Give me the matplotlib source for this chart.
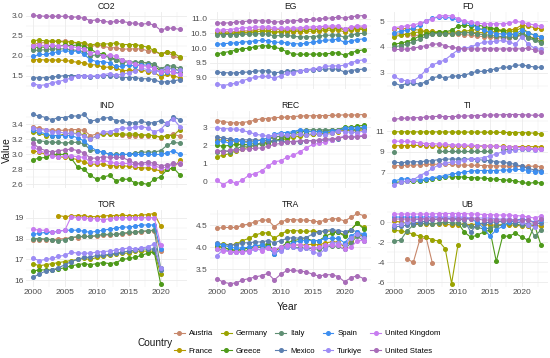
import numpy as np
import matplotlib
matplotlib.use('Agg')
import matplotlib.pyplot as plt
from matplotlib.lines import Line2D
from matplotlib.ticker import MultipleLocator, AutoMinorLocator, FormatStrFormatter

plt.rcParams['font.family'] = ['Liberation Sans', 'DejaVu Sans']
plt.rcParams['axes.unicode_minus'] = False

nan = np.nan
years = list(range(2000, 2024))

countries = ['Austria', 'France', 'Germany', 'Greece', 'Italy',
             'Mexico', 'Spain', 'Turkiye', 'United Kingdom', 'United States']
colors = ['#C7876B', '#B59A00', '#9AA300', '#4E9A1A', '#5F8F73',
          '#5C7FB0', '#3D8EF0', '#9D8CF5', '#C77CF0', '#A86CB8']

# CO2
co2 = {
    'Austria': [2.28, 2.32, 2.33, 2.37, 2.36, 2.37, 2.35, 2.3, 2.3, 2.22, 2.27, 2.24, 2.2, 2.2, 2.16, 2.17, 2.17, 2.17, 2.12, 2.12, 2.03, 2.08, 2.0, 1.93],
    'France': [1.9, 1.9, 1.89, 1.89, 1.89, 1.88, 1.86, 1.83, 1.82, 1.77, 1.77, 1.71, 1.71, 1.7, 1.62, 1.63, 1.63, 1.64, 1.6, 1.58, 1.47, 1.53, 1.5, 1.44],
    'Germany': [2.38, 2.39, 2.37, 2.37, 2.36, 2.34, 2.35, 2.32, 2.33, 2.26, 2.3, 2.29, 2.3, 2.32, 2.28, 2.28, 2.28, 2.25, 2.21, 2.13, 2.04, 2.1, 2.07, 1.97],
    'Greece': [2.2, 2.22, 2.21, 2.25, 2.24, 2.27, 2.25, 2.27, 2.23, 2.17, 2.07, 2.04, 1.98, 1.9, 1.88, 1.85, 1.8, 1.85, 1.8, 1.74, 1.62, 1.66, 1.7, 1.6],
    'Italy': [2.13, 2.14, 2.15, 2.17, 2.17, 2.17, 2.15, 2.13, 2.1, 2.0, 2.02, 2.0, 1.95, 1.88, 1.82, 1.85, 1.84, 1.83, 1.82, 1.79, 1.67, 1.74, 1.74, 1.68],
    'Mexico': [1.45, 1.44, 1.45, 1.46, 1.48, 1.5, 1.5, 1.5, 1.5, 1.47, 1.48, 1.5, 1.5, 1.48, 1.45, 1.45, 1.45, 1.42, 1.42, 1.4, 1.33, 1.35, 1.36, 1.4],
    'Spain': [1.98, 2.03, 2.03, 2.07, 2.1, 2.13, 2.1, 2.12, 2.03, 1.9, 1.85, 1.85, 1.82, 1.73, 1.73, 1.77, 1.74, 1.77, 1.76, 1.68, 1.56, 1.6, 1.6, 1.55],
    'Turkiye': [1.3, 1.25, 1.27, 1.32, 1.35, 1.39, 1.44, 1.5, 1.48, 1.49, 1.49, 1.52, 1.55, 1.51, 1.53, 1.57, 1.61, 1.68, 1.65, 1.6, 1.62, 1.7, 1.65, 1.63],
    'United Kingdom': [2.25, 2.27, 2.25, 2.26, 2.25, 2.24, 2.23, 2.2, 2.17, 2.07, 2.09, 1.99, 2.02, 1.98, 1.89, 1.85, 1.79, 1.75, 1.73, 1.69, 1.58, 1.62, 1.58, 1.54],
    'United States': [3.01, 3.0, 2.99, 2.99, 2.99, 2.99, 2.97, 2.97, 2.94, 2.88, 2.9, 2.87, 2.84, 2.86, 2.86, 2.83, 2.81, 2.79, 2.81, 2.77, 2.64, 2.69, 2.69, 2.66],
}

# EG
eg = {
    'Austria': [10.55, 10.55, 10.56, 10.56, 10.58, 10.59, 10.62, 10.65, 10.66, 10.62, 10.63, 10.65, 10.65, 10.65, 10.65, 10.65, 10.66, 10.68, 10.7, 10.71, 10.64, 10.68, 10.72, 10.7],
    'France': [10.5, 10.51, 10.51, 10.52, 10.53, 10.54, 10.55, 10.57, 10.57, 10.54, 10.55, 10.56, 10.56, 10.56, 10.57, 10.57, 10.58, 10.6, 10.61, 10.62, 10.55, 10.61, 10.63, 10.63],
    'Germany': [10.5, 10.5, 10.5, 10.5, 10.51, 10.52, 10.55, 10.58, 10.59, 10.53, 10.57, 10.6, 10.61, 10.61, 10.62, 10.63, 10.64, 10.66, 10.66, 10.67, 10.63, 10.66, 10.67, 10.65],
    'Greece': [9.8, 9.84, 9.88, 9.93, 9.98, 9.99, 10.05, 10.08, 10.07, 10.03, 9.97, 9.87, 9.8, 9.78, 9.79, 9.79, 9.79, 9.8, 9.82, 9.84, 9.75, 9.84, 9.9, 9.94],
    'Italy': [10.45, 10.46, 10.46, 10.46, 10.47, 10.47, 10.48, 10.49, 10.47, 10.41, 10.43, 10.43, 10.4, 10.38, 10.38, 10.39, 10.41, 10.43, 10.44, 10.45, 10.36, 10.44, 10.49, 10.5],
    'Mexico': [9.18, 9.16, 9.15, 9.15, 9.17, 9.18, 9.21, 9.22, 9.22, 9.15, 9.18, 9.2, 9.22, 9.22, 9.24, 9.26, 9.27, 9.28, 9.29, 9.27, 9.18, 9.23, 9.26, 9.28],
    'Spain': [10.12, 10.15, 10.16, 10.18, 10.2, 10.22, 10.24, 10.26, 10.25, 10.2, 10.19, 10.18, 10.15, 10.14, 10.16, 10.2, 10.23, 10.26, 10.28, 10.3, 10.19, 10.24, 10.29, 10.31],
    'Turkiye': [8.78, 8.72, 8.76, 8.8, 8.88, 8.95, 9.0, 9.03, 9.03, 8.97, 9.05, 9.14, 9.16, 9.22, 9.25, 9.29, 9.31, 9.37, 9.39, 9.39, 9.41, 9.5, 9.56, 9.6],
    'United Kingdom': [10.6, 10.62, 10.63, 10.66, 10.68, 10.7, 10.71, 10.72, 10.71, 10.67, 10.67, 10.67, 10.68, 10.69, 10.71, 10.72, 10.73, 10.74, 10.75, 10.75, 10.65, 10.72, 10.75, 10.75],
    'United States': [10.85, 10.85, 10.86, 10.88, 10.9, 10.92, 10.93, 10.93, 10.92, 10.88, 10.9, 10.91, 10.93, 10.94, 10.96, 10.98, 10.99, 11.01, 11.03, 11.05, 11.02, 11.07, 11.09, 11.11],
}

# FD
fd = {
    'Austria': [4.5, 4.5, 4.48, 4.45, 4.45, 4.48, 4.52, 4.55, 4.55, 4.5, 4.5, 4.48, 4.45, 4.42, 4.4, 4.38, 4.36, 4.35, 4.35, 4.38, 4.45, 4.4, 4.35, 4.3],
    'France': [4.7, 4.72, 4.7, 4.68, 4.65, 4.6, 4.6, 4.58, 4.56, 4.58, 4.58, 4.57, 4.56, 4.55, 4.56, 4.58, 4.6, 4.62, 4.65, 4.7, 4.85, 4.8, 4.75, 4.7],
    'Germany': [4.4, 4.45, 4.5, 4.55, 4.58, 4.6, 4.55, 4.52, 4.5, 4.52, 4.55, 4.6, 4.65, 4.68, 4.7, 4.7, 4.68, 4.65, 4.6, 4.62, 4.75, 4.55, 4.45, 4.4],
    'Greece': [4.1, 4.15, 4.2, 4.3, 4.42, 4.5, 4.55, 4.58, 4.58, 4.65, 4.8, 4.85, 4.82, 4.85, 4.8, 4.75, 4.7, 4.6, 4.5, 4.45, 4.55, 4.4, 4.3, 4.2],
    'Italy': [4.0, 4.05, 4.1, 4.2, 4.3, 4.42, 4.5, 4.52, 4.5, 4.52, 4.55, 4.55, 4.55, 4.5, 4.48, 4.45, 4.42, 4.4, 4.38, 4.38, 4.5, 4.35, 4.25, 4.15],
    'Mexico': [2.6, 2.5, 2.58, 2.6, 2.55, 2.65, 2.8, 2.85, 2.8, 2.85, 2.88, 2.9, 2.98, 3.05, 3.05, 3.1, 3.15, 3.2, 3.22, 3.28, 3.3, 3.25, 3.22, 3.2],
    'Spain': [4.55, 4.6, 4.65, 4.72, 4.85, 5.0, 5.12, 5.15, 5.15, 5.12, 5.05, 4.98, 4.88, 4.75, 4.65, 4.58, 4.52, 4.5, 4.5, 4.5, 4.65, 4.55, 4.45, 4.38],
    'Turkiye': [2.85, 2.72, 2.68, 2.68, 2.85, 3.1, 3.3, 3.4, 3.5, 3.7, 3.88, 3.95, 4.0, 4.1, 4.18, 4.2, 4.22, 4.25, 4.2, 4.1, 4.4, 4.1, 3.95, 3.9],
    'United Kingdom': [4.75, 4.78, 4.82, 4.85, 4.92, 5.0, 5.1, 5.2, 5.22, 5.2, 5.1, 5.0, 4.95, 4.92, 4.9, 4.9, 4.9, 4.9, 4.92, 5.0, 4.95, 4.9, 4.85, 4.8],
    'United States': [3.9, 3.9, 3.92, 3.95, 4.0, 4.05, 4.1, 4.12, 4.05, 3.98, 3.95, 3.92, 3.92, 3.92, 3.93, 3.93, 3.92, 3.92, 3.92, 3.93, 3.92, 3.95, 3.88, 3.82],
}

# IND
ind = {
    'Austria': [3.36, 3.35, 3.33, 3.32, 3.32, 3.32, 3.33, 3.33, 3.32, 3.25, 3.27, 3.28, 3.28, 3.27, 3.26, 3.25, 3.25, 3.25, 3.25, 3.25, 3.22, 3.25, 3.27, 3.24],
    'France': [3.05, 3.03, 3.0, 2.99, 2.97, 2.96, 2.95, 2.93, 2.9, 2.87, 2.87, 2.87, 2.85, 2.85, 2.85, 2.84, 2.83, 2.82, 2.82, 2.8, 2.78, 2.8, 2.82, 2.92],
    'Germany': [3.3, 3.28, 3.25, 3.25, 3.25, 3.27, 3.28, 3.28, 3.26, 3.2, 3.25, 3.27, 3.27, 3.27, 3.27, 3.27, 3.27, 3.26, 3.26, 3.25, 3.23, 3.25, 3.25, 3.33],
    'Greece': [2.93, 2.95, 2.96, 3.0, 3.0, 3.0, 2.95, 2.83, 2.8, 2.72, 2.67, 2.7, 2.72, 2.65, 2.67, 2.67, 2.62, 2.62, 2.6, 2.67, 2.7, 2.8, 2.82, 2.73],
    'Italy': [3.2, 3.18, 3.17, 3.16, 3.16, 3.15, 3.16, 3.16, 3.14, 3.06, 3.04, 3.03, 3.0, 3.0, 3.0, 3.0, 3.02, 3.03, 3.03, 3.03, 3.05, 3.12, 3.16, 3.15],
    'Mexico': [3.53, 3.51, 3.49, 3.46, 3.49, 3.49, 3.51, 3.51, 3.53, 3.44, 3.46, 3.48, 3.49, 3.45, 3.44, 3.42, 3.42, 3.44, 3.42, 3.42, 3.45, 3.41, 3.5, 3.46],
    'Spain': [3.33, 3.3, 3.27, 3.25, 3.25, 3.25, 3.25, 3.22, 3.18, 3.1, 3.05, 3.03, 3.0, 2.99, 3.0, 3.0, 3.0, 3.0, 3.0, 3.0, 3.0, 3.02, 3.05, 3.0],
    'Turkiye': [3.35, 3.33, 3.32, 3.3, 3.3, 3.28, 3.28, 3.27, 3.25, 3.2, 3.25, 3.3, 3.3, 3.33, 3.35, 3.35, 3.36, 3.37, 3.35, 3.3, 3.33, 3.42, 3.47, 3.37],
    'United Kingdom': [3.1, 3.05, 3.02, 2.98, 2.97, 2.98, 2.98, 2.97, 2.96, 2.9, 2.9, 2.92, 2.9, 2.88, 2.88, 2.88, 2.86, 2.87, 2.87, 2.85, 2.82, 2.83, 2.87, 2.88],
    'United States': [3.15, 3.08, 3.05, 3.03, 3.05, 3.06, 3.07, 3.05, 3.02, 2.95, 2.95, 2.97, 2.96, 2.96, 2.96, 2.92, 2.88, 2.88, 2.9, 2.88, 2.85, 2.86, 2.88, 2.87],
}

# REC
rec = {
    'Austria': [3.36, 3.3, 3.25, 3.22, 3.25, 3.3, 3.38, 3.45, 3.47, 3.52, 3.53, 3.55, 3.58, 3.6, 3.62, 3.62, 3.63, 3.63, 3.64, 3.65, 3.67, 3.66, 3.67, 3.69],
    'France': [2.3, 2.3, 2.25, 2.25, 2.2, 2.2, 2.25, 2.3, 2.4, 2.45, 2.5, 2.45, 2.55, 2.6, 2.6, 2.6, 2.65, 2.65, 2.7, 2.75, 2.85, 2.8, 2.8, 2.85],
    'Germany': [1.38, 1.45, 1.55, 1.7, 1.8, 1.9, 2.0, 2.15, 2.15, 2.25, 2.3, 2.35, 2.45, 2.5, 2.55, 2.6, 2.62, 2.7, 2.75, 2.8, 2.9, 2.85, 2.88, 2.95],
    'Greece': [2.0, 1.95, 2.0, 2.05, 2.05, 2.05, 2.1, 2.05, 2.1, 2.25, 2.35, 2.45, 2.6, 2.75, 2.75, 2.75, 2.75, 2.8, 2.85, 2.85, 3.0, 3.0, 3.05, 3.1],
    'Italy': [1.65, 1.7, 1.65, 1.8, 1.95, 1.95, 2.0, 2.15, 2.3, 2.45, 2.5, 2.55, 2.75, 2.8, 2.85, 2.85, 2.85, 2.85, 2.85, 2.85, 2.9, 2.85, 2.85, 2.92],
    'Mexico': [2.45, 2.4, 2.35, 2.3, 2.3, 2.3, 2.3, 2.25, 2.25, 2.25, 2.25, 2.2, 2.2, 2.2, 2.25, 2.25, 2.25, 2.3, 2.3, 2.35, 2.5, 2.45, 2.5, 2.5],
    'Spain': [2.2, 2.25, 2.1, 2.3, 2.2, 2.15, 2.2, 2.3, 2.4, 2.6, 2.7, 2.7, 2.75, 2.85, 2.8, 2.75, 2.75, 2.7, 2.8, 2.8, 2.95, 2.95, 2.95, 3.0],
    'Turkiye': [2.95, 2.92, 2.9, 2.88, 2.82, 2.72, 2.62, 2.55, 2.5, 2.55, 2.6, 2.55, 2.55, 2.62, 2.55, 2.65, 2.62, 2.58, 2.65, 2.8, 2.75, 2.72, 2.7, 2.78],
    'United Kingdom': [0.07, -0.15, 0.05, -0.08, 0.1, 0.35, 0.45, 0.6, 0.85, 1.1, 1.15, 1.35, 1.45, 1.65, 1.85, 2.05, 2.1, 2.2, 2.3, 2.4, 2.5, 2.45, 2.5, 2.55],
    'United States': [1.7, 1.65, 1.72, 1.75, 1.78, 1.8, 1.85, 1.85, 1.95, 2.05, 2.1, 2.2, 2.2, 2.25, 2.25, 2.25, 2.3, 2.35, 2.35, 2.4, 2.45, 2.45, 2.45, 2.5],
}

# TI
ti = {
    'Austria': [7.65, 7.68, 7.7, 7.72, 7.75, 7.78, 7.8, 7.8, 7.8, 7.78, 7.75, 7.72, 7.7, 7.7, 7.68, 7.66, 7.65, 7.63, 7.62, 7.6, 7.6, 7.6, 7.62, 7.58],
    'France': [9.58, 9.6, 9.6, 9.62, 9.62, 9.6, 9.58, 9.57, 9.56, 9.55, 9.55, 9.55, 9.55, 9.55, 9.55, 9.55, 9.53, 9.52, 9.5, 9.5, 9.5, 9.5, 9.5, 9.48],
    'Germany': [10.93, 10.93, 10.93, 10.92, 10.92, 10.92, 10.92, 10.92, 10.91, 10.91, 10.9, 10.9, 10.9, 10.9, 10.89, 10.88, 10.88, 10.87, 10.86, 10.85, 10.85, 10.83, 10.8, 10.72],
    'Greece': [6.05, 6.1, 6.15, 6.15, 6.2, 6.3, 6.4, 6.5, 6.55, 6.6, 6.6, 6.55, 6.5, 6.5, 6.45, 6.4, 6.35, 6.3, 6.25, 6.2, 6.05, 5.95, 6.05, 6.0],
    'Italy': [9.0, nan, nan, nan, nan, nan, nan, 9.05, 9.05, 9.05, 9.05, 9.05, 9.05, 9.05, 9.05, 9.05, nan, 9.25, 9.25, 9.25, 9.25, 9.25, 9.25, 9.25],
    'Mexico': [8.0, 7.95, 8.0, 8.05, 8.05, 8.1, 8.15, 8.25, 8.3, 8.3, 8.3, 8.3, 8.3, 8.25, 8.2, 8.15, 8.05, 8.0, 7.9, 7.8, 7.6, 7.4, 7.25, 7.2],
    'Spain': [6.2, 6.35, 6.4, 6.3, 6.3, 6.4, 6.5, 6.6, 6.7, 6.85, 6.95, 7.05, 7.15, 7.2, 7.2, 7.2, 7.2, 7.25, 7.25, 7.3, 7.3, 7.2, 7.1, 7.05],
    'Turkiye': [5.85, 6.05, 6.2, 6.3, 6.7, 7.0, 7.4, 7.75, 7.9, 8.0, 8.05, 8.2, 8.3, 8.35, 8.45, 8.6, 8.8, 9.0, 9.1, 9.2, 9.25, 9.25, 9.2, 9.25],
    'United Kingdom': [10.05, 10.0, 10.0, 9.95, 9.85, 9.8, 9.78, 9.75, 9.72, 9.68, 9.66, 9.65, 9.62, 9.6, 9.58, 9.55, 9.52, 9.5, 9.48, 9.45, 9.4, 9.35, 9.3, 9.3],
    'United States': [12.13, 12.22, 12.25, 12.28, 12.3, 12.35, 12.4, 12.42, 12.4, 12.4, 12.42, 12.45, 12.47, 12.5, 12.52, 12.55, 12.55, 12.58, 12.6, 12.6, 12.58, 12.55, 12.52, 12.52],
}

# TOR (series end in 2020)
tor = {
    'Austria': [17.95, 17.95, 17.95, 17.95, 17.98, 18.0, 18.05, 18.05, 18.1, 18.1, 18.12, 18.15, 18.18, 18.2, 18.22, 18.25, 18.3, 18.32, 18.35, 18.38, 17.4, nan, nan, nan],
    'France': [nan, nan, nan, nan, 19.1, 19.05, 19.08, 19.1, 19.08, 19.05, 19.05, 19.08, 19.1, 19.1, 19.12, 19.1, 19.1, 19.12, 19.15, 19.2, 18.6, nan, nan, nan],
    'Germany': [16.8, 16.7, 16.75, 16.8, 16.85, 16.9, 16.95, 17.0, 17.05, 17.0, 17.1, 17.15, 17.2, 17.25, 17.3, 17.3, 17.4, 17.4, 17.4, 17.4, 16.3, nan, nan, nan],
    'Greece': [16.45, 16.5, 16.5, 16.5, 16.55, 16.6, 16.7, 16.75, 16.8, 16.75, 16.8, 16.85, 16.8, 16.85, 17.0, 17.05, 17.1, 17.2, 17.3, 17.35, 15.85, nan, nan, nan],
    'Italy': [18.0, 18.0, 17.98, 17.95, 17.9, 17.95, 18.05, 18.1, 18.1, 18.1, 18.15, 18.2, 18.2, 18.2, 18.25, 18.3, 18.3, 18.35, 18.38, 18.4, 16.6, nan, nan, nan],
    'Mexico': [16.15, 16.3, 16.45, 16.5, 16.6, 16.75, 16.9, 17.0, 17.1, 17.1, 17.2, 17.2, 17.25, 17.3, 17.35, 17.4, 17.45, 17.5, 17.5, 17.5, 16.5, nan, nan, nan],
    'Spain': [18.2, 18.25, 18.3, 18.3, 18.35, 18.4, 18.4, 18.4, 18.35, 18.3, 18.35, 18.4, 18.45, 18.5, 18.55, 18.55, 18.6, 18.65, 18.65, 18.65, 17.5, nan, nan, nan],
    'Turkiye': [17.05, 16.95, 17.0, 17.05, 17.15, 17.2, 17.35, 17.3, 17.3, 17.3, 17.35, 17.38, 17.4, 17.45, 17.5, 17.55, 17.5, 17.55, 17.6, 17.75, 16.6, nan, nan, nan],
    'United Kingdom': [18.45, 18.4, 18.4, 18.3, 18.35, 18.4, 19.05, 19.0, 19.0, 18.95, 18.95, 18.9, 18.95, 19.0, 19.0, 19.0, 19.0, 19.0, 19.0, 19.0, 17.7, nan, nan, nan],
    'United States': [nan] * 24,
}

# TRA
tra = {
    'Austria': [4.43, 4.45, 4.45, 4.45, 4.5, 4.53, 4.58, 4.62, 4.62, 4.47, 4.57, 4.63, 4.63, 4.62, 4.62, 4.6, 4.58, 4.62, 4.65, 4.65, 4.6, 4.68, 4.77, 4.72],
    'France': [4.0, 3.98, 3.95, 3.93, 3.95, 3.98, 4.02, 4.03, 4.05, 3.92, 3.98, 4.05, 4.05, 4.05, 4.05, 4.07, 4.05, 4.1, 4.12, 4.12, 4.0, 4.15, 4.3, 4.25],
    'Germany': [4.05, 4.08, 4.05, 4.07, 4.15, 4.2, 4.28, 4.32, 4.33, 4.2, 4.3, 4.37, 4.38, 4.37, 4.36, 4.37, 4.35, 4.36, 4.37, 4.35, 4.28, 4.4, 4.55, 4.45],
    'Greece': [4.05, 4.0, 3.95, 3.92, 3.95, 3.98, 4.02, 4.05, 4.08, 3.92, 4.0, 4.1, 4.15, 4.18, 4.2, 4.15, 4.15, 4.25, 4.32, 4.35, 4.25, 4.4, 4.55, 4.42],
    'Italy': [3.95, 3.95, 3.9, 3.88, 3.9, 3.93, 3.98, 4.0, 4.0, 3.85, 3.95, 4.0, 4.0, 3.98, 3.98, 3.97, 3.95, 4.0, 4.03, 4.02, 3.95, 4.1, 4.25, 4.15],
    'Mexico': [4.1, 4.05, 4.05, 4.05, 4.1, 4.1, 4.12, 4.12, 4.15, 4.1, 4.15, 4.2, 4.22, 4.2, 4.22, 4.3, 4.35, 4.38, 4.4, 4.38, 4.35, 4.4, 4.35, 4.25],
    'Spain': [4.08, 4.05, 4.0, 3.98, 3.98, 4.0, 4.03, 4.05, 4.0, 3.85, 3.95, 4.05, 4.1, 4.15, 4.15, 4.15, 4.15, 4.2, 4.2, 4.2, 4.1, 4.25, 4.35, 4.3],
    'Turkiye': [3.8, 3.95, 3.9, 3.88, 3.9, 3.9, 3.95, 3.95, 3.98, 3.9, 3.92, 4.0, 4.0, 3.95, 3.98, 3.9, 3.85, 3.95, 4.1, 4.1, 4.05, 4.2, 4.3, 4.2],
    'United Kingdom': [3.95, 3.92, 3.9, 3.9, 3.88, 3.92, 3.98, 3.92, 3.98, 3.95, 4.0, 4.05, 4.05, 4.05, 4.02, 3.98, 4.0, 4.05, 4.05, 4.05, 3.95, 4.0, 4.15, 4.15],
    'United States': [3.28, 3.2, 3.17, 3.18, 3.25, 3.28, 3.32, 3.35, 3.4, 3.25, 3.38, 3.47, 3.47, 3.45, 3.44, 3.38, 3.34, 3.37, 3.37, 3.33, 3.21, 3.3, 3.35, 3.28],
}

# UB
ub = {
    'Austria': [nan, nan, -3.65, -4.0, -1.8, -1.5, -4.1, nan, nan, nan, nan, nan, nan, nan, nan, nan, nan, nan, nan, nan, nan, nan, nan, nan],
    'France': [0.1, 0.0, -0.1, -0.1, -0.15, -0.2, -0.2, -0.15, -0.2, -0.3, -0.25, -0.2, -0.25, -0.2, -0.2, -0.3, -0.3, -0.25, -0.3, -0.3, -0.4, -0.35, -0.35, -0.4],
    'Germany': [-0.8, -0.9, -1.0, -1.2, -1.4, -1.5, -1.75, -1.9, -2.65, -6.1, -2.25, nan, nan, nan, nan, nan, nan, nan, nan, nan, nan, nan, nan, nan],
    'Greece': [nan, nan, nan, nan, nan, nan, nan, nan, nan, nan, -0.1, -1.0, -1.5, -1.3, -1.0, -0.8, -3.9, -1.4, -1.4, -1.1, -1.5, -1.8, -0.3, -2.3],
    'Italy': [-1.9, -1.8, -0.9, -0.3, -0.2, -0.1, -0.2, -0.1, 0.0, -0.1, -0.1, -0.3, -0.4, -0.5, -0.7, -0.6, -0.4, -0.3, -0.1, -0.2, -0.3, -0.3, -1.4, -0.8],
    'Mexico': [-0.5, -0.4, -0.3, -0.1, 0.0, 0.1, 0.2, 0.3, 0.4, 0.3, 0.3, 0.2, -1.0, -0.2, -0.1, 0.0, 0.0, 0.1, 0.1, 0.0, -0.1, -0.2, -0.2, -0.1],
    'Spain': [0.5, 0.5, 0.5, 0.5, 0.5, 0.5, 0.5, 0.5, 0.4, 0.3, 0.4, 0.4, 0.3, 0.0, -0.6, -1.4, -0.8, -0.4, 0.0, 0.2, 0.3, 0.2, 0.0, 0.2],
    'Turkiye': [-0.3, -0.2, 0.0, 0.2, 0.3, 0.4, 0.5, 0.5, 0.5, 0.5, 0.5, 0.5, 0.4, 0.4, 0.4, 0.4, 0.3, 0.3, 0.3, 0.2, 0.0, -0.3, -0.5, 0.4],
    'United Kingdom': [0.8, 0.8, 0.8, 0.8, 0.8, 0.8, 0.8, 0.85, 0.85, 0.85, 0.85, 0.85, 0.8, 0.8, 0.75, 0.75, 0.7, 0.7, 0.7, 0.65, 0.6, 0.5, 0.4, 0.6],
    'United States': [0.3, 0.3, 0.3, 0.3, 0.3, 0.3, 0.3, 0.3, 0.3, 0.3, 0.3, 0.3, 0.3, 0.3, 0.2, 0.2, 0.2, 0.2, 0.2, 0.2, 0.2, 0.2, -0.1, 0.3],
}

panels = [('CO2', co2), ('EG', eg), ('FD', fd),
          ('IND', ind), ('REC', rec), ('TI', ti),
          ('TOR', tor), ('TRA', tra), ('UB', ub)]

# y tick step, offset, label format per panel
ystyle = {'CO2': (0.5, 0, '%.1f'), 'EG': (0.5, 0, '%.1f'), 'FD': (1, 0, '%d'),
          'IND': (0.2, 0, '%.1f'), 'REC': (1, 0, '%d'), 'TI': (2, 1, '%d'),
          'TOR': (1, 0, '%d'), 'TRA': (0.5, 0, '%.1f'), 'UB': (2, 0, '%d')}

W, H = 550, 358
fig = plt.figure(figsize=(W / 100, H / 100), dpi=100)

col_left = [25.6, 209.5, 386.8]
col_w = 161.5
row_top = [12, 111, 210]
row_h = 77

grid_c = '#EBEBEB'
for i, (name, data) in enumerate(panels):
    r, c = divmod(i, 3)
    ax = fig.add_axes([col_left[c] / W, 1 - (row_top[r] + row_h) / H, col_w / W, row_h / H])
    for country, col in zip(countries, colors):
        ax.plot(years, data[country], color=col, lw=0.8, marker='o', ms=2.6,
                mec=col, mfc=col, zorder=3)
    step, off, fmt = ystyle[name]
    ax.yaxis.set_major_locator(MultipleLocator(step, offset=off))
    ax.yaxis.set_minor_locator(AutoMinorLocator(2))
    ax.yaxis.set_major_formatter(FormatStrFormatter(fmt))
    ax.xaxis.set_major_locator(MultipleLocator(5))
    ax.xaxis.set_minor_locator(AutoMinorLocator(2))
    ax.set_xlim(1998.85, 2024.15)
    ax.grid(True, which='major', color=grid_c, lw=0.6, zorder=0)
    ax.grid(True, which='minor', color=grid_c, lw=0.3, zorder=0)
    ax.set_axisbelow(True)
    for s in ax.spines.values():
        s.set_visible(False)
    ax.tick_params(which='both', length=0, labelsize=6, colors='#4D4D4D', pad=1.5)
    if r < 2:
        ax.tick_params(axis='x', labelbottom=False)
    ax.set_title(name, fontsize=6.2, color='#1A1A1A', pad=2.5)

fig.text(287 / W, 1 - 307 / H, 'Year', ha='center', va='center', fontsize=7.5, color='#1A1A1A')
fig.text(7 / W, 1 - 150 / H, 'Value', ha='center', va='center', rotation=90, fontsize=7.5, color='#1A1A1A')

handles = [Line2D([], [], color=col, lw=0.8, marker='o', ms=2.6) for col in colors]
fig.text(138 / W, 1 - 343 / H, 'Country', ha='left', va='center', fontsize=7.2, color='#1A1A1A')
fig.legend(handles, countries, ncol=5, loc='center left', bbox_to_anchor=(174 / W, 1 - 342.5 / H),
           frameon=False, fontsize=5.6, handlelength=1.4, handletextpad=0.5,
           columnspacing=1.0, labelspacing=1.3, borderpad=0, borderaxespad=0)

fig.savefig('out.png', dpi=100)
